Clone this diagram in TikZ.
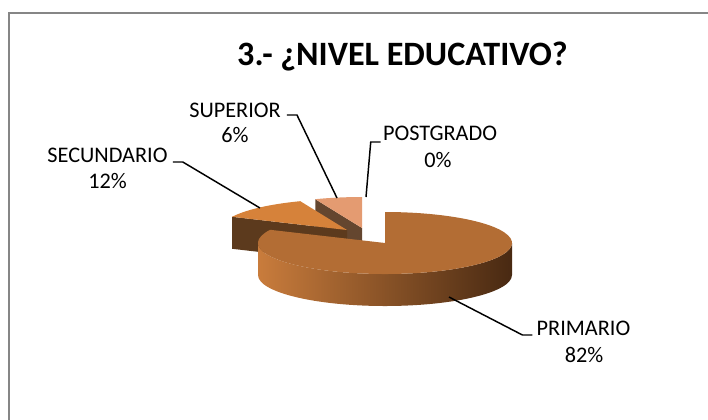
\documentclass[tikz,border=0pt]{standalone}
\usepackage{fontspec}
\setmainfont{Carlito}
\usepackage{tikz}
\usetikzlibrary{calc, positioning}

\definecolor{frameg}{RGB}{134,134,134}
\definecolor{primtop}{RGB}{179,109,52}
\definecolor{primL}{RGB}{201,124,60}
\definecolor{primM}{RGB}{158,93,43}
\definecolor{primR}{RGB}{72,41,18}
\definecolor{secutop}{RGB}{214,130,58}
\definecolor{secuside}{RGB}{92,58,29}
\definecolor{supetop}{RGB}{228,155,113}
\definecolor{supeside}{RGB}{100,70,47}

\begin{document}
\begin{tikzpicture}[
      x=0.75pt, y=0.75pt,
      lbl/.style={font=\fontsize{16.7}{18.75}\selectfont, inner sep=0pt, anchor=base},
      charttitle/.style={font=\fontsize{25.6}{30}\selectfont\bfseries, inner sep=0pt, anchor=base},
      leader/.style={draw=black, line width=1.1pt},
      rad/.style={x radius=127, y radius=31}
    ]

    \useasboundingbox (0,0) rectangle (708,-419);
    \draw[frameg, line width=1.1pt] (9,-13) rectangle (720,-430);

    \node[charttitle] (ttl) at (402.5,-65) {3.- ¿NIVEL EDUCATIVO?};

    % slice tips and centre
    \coordinate (tipsup) at (362,-228);
    \coordinate (tipsec) at (347,-230);
    \coordinate (ctrpri) at (385,-243);

    % SUPERIOR (back)
    \fill[supeside] (tipsup) -- ($(tipsup)+(111.6:127 and 31)$) -- ++(0,-32) -- ($(tipsup)+(0,-32)$) -- cycle;
    \fill[supetop] (tipsup) -- ($(tipsup)+(0,31)$) arc[start angle=90, end angle=111.6, rad] -- cycle;

    % SECUNDARIO
    \fill[secuside] (tipsec) -- ($(tipsec)+(154.8:127 and 31)$) -- ++(0,-32) -- ($(tipsec)+(0,-32)$) -- cycle;
    \fill[secutop] (tipsec) -- ($(tipsec)+(154.8:127 and 31)$) arc[start angle=154.8, end angle=111.6, rad] -- cycle;

    % PRIMARIO (front)
    \shade[left color=primL, middle color=primM, right color=primR]
      ($(ctrpri)+(-127,0)$) arc[start angle=180, end angle=360, rad] -- ++(0,-32)
      arc[start angle=0, end angle=-180, rad] -- cycle;
    \fill[primtop] (ctrpri) -- ($(ctrpri)+(154.8:127 and 31)$) arc[start angle=-205.2, end angle=90, rad] -- cycle;

    % labels
    \node[lbl] (lblsup) at (235,-117) {SUPERIOR};
    \node[lbl] (valsup) at (235,-142) {6\%};
    \node[lbl] (lblsec) at (107.5,-162) {SECUNDARIO};
    \node[lbl] (valsec) at (107.5,-188) {12\%};
    \node[lbl] (lblpost) at (440,-140) {POSTGRADO};
    \node[lbl] (valpost) at (438,-167) {0\%};
    \node[lbl] (lblpri) at (583.5,-335) {PRIMARIO};
    \node[lbl] (valpri) at (584,-362) {82\%};

    \coordinate (endsup) at (337,-198);
    \coordinate (endsec) at (260,-208);
    \coordinate (endpost) at (366,-197);
    \coordinate (endpri) at (449,-297);

    \draw[leader] ([shift={(6,2)}]lblsup.base east) -- ++(10,0) -- (endsup);
    \draw[leader] ([shift={(5,0)}]lblsec.base east) -- ++(10,0) -- (endsec);
    \draw[leader] ([shift={(-2,-2)}]lblpost.base west) -- ++(-10,0) -- (endpost);
    \draw[leader] ([shift={(-4,0)}]lblpri.base west) -- ++(-10,0) -- (endpri);

\end{tikzpicture}
\end{document}
